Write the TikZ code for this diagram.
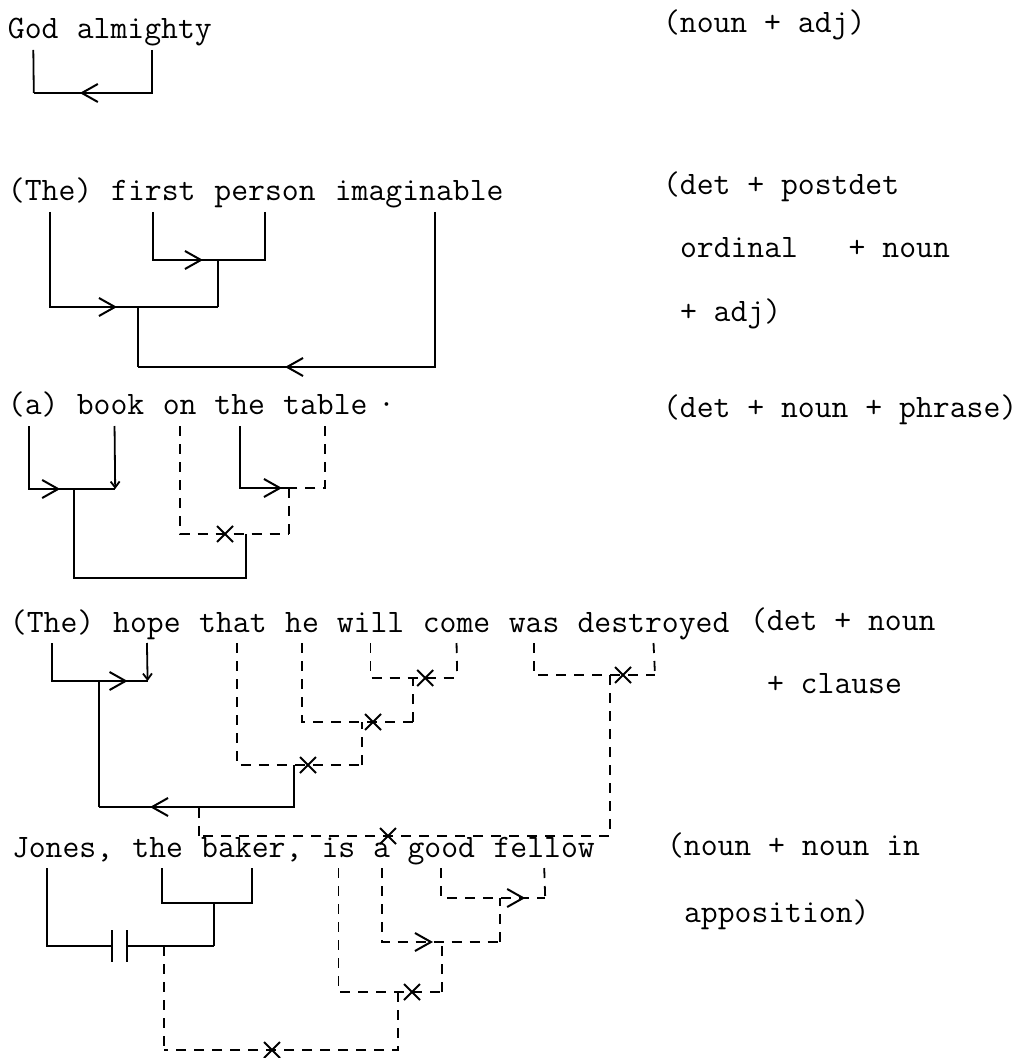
\documentclass[tikz,border=0pt]{standalone}
\usepackage{fontspec}
\usetikzlibrary{arrows.meta,decorations.markings}

\begin{document}
\begin{tikzpicture}[x=0.5pt,y=-0.5pt,
  word/.style={font=\ttfamily\addfontfeatures{FakeBold=0.6}\fontsize{16.38pt}{19pt}\selectfont,inner sep=0pt,outer sep=0pt,anchor=base west,text depth=5.5pt},
  link/.style={line width=0.9pt},
  dlink/.style={link,dash pattern=on 5pt off 4pt},
  tipat/.style={postaction={decorate,decoration={markings,mark=at position #1 with {\arrow[solid]{Straight Barb[length=8pt,width=9pt,line width=1pt]}}}}},
  crossat/.style={postaction={decorate,decoration={markings,mark=at position #1 with {\draw[solid,line width=1pt] (-4pt,-4pt)--(4pt,4pt) (-4pt,4pt)--(4pt,-4pt);}}}},
  smalltip/.style={-{Straight Barb[length=3pt,width=4.5pt]}}]
\useasboundingbox (0,0) rectangle (1029,1058);
\fill[white] (0,0) rectangle (1029,1058);

\node[word] (god) at (8,39) {God};
\node[word] (almighty) at (76.8,39) {almighty};
\node[word] (lab1) at (663,33) {(noun + adj)};
\coordinate (g1) at (33.8,93);
\draw[link] (god.south) -- (g1);
\draw[link,tipat=-23pt] ([xshift=4pt]almighty.south) |- (g1);

\node[word] (the2) at (8,201) {(The)};
\node[word] (first) at (111.2,201) {first};
\node[word] (person) at (214.4,201) {person};
\node[word] (imaginable) at (334.8,201) {imaginable};
\node[word] (lab2) at (663,195) {(det + postdet};
\node[word] (lab3) at (680,258) {ordinal\ \ \ + noun};
\node[word] (lab4) at (680,322) {+ adj)};
\coordinate (p1) at (218,260);
\coordinate (p2) at (218,307);
\coordinate (p3) at (138,307);
\coordinate (p4) at (138,367);
\draw[link,tipat=-7.5pt] (first.south) |- (p1);
\draw[link] (person.south) |- (p1);
\draw[link] (p1) -- (p2);
\draw[link,tipat=-50.5pt] (the2.south) |- (p2);
\draw[link] (p3) -- (p4);
\draw[link,tipat=-73.5pt] ([xshift=8pt]imaginable.south) |- (p4);

\node[word] (a) at (8,415) {(a)};
\node[word] (book) at (76.8,415) {book};
\node[word] (on) at (162.8,415) {on};
\node[word] (the3) at (214.4,415) {the};
\node[word] (table) at (283.2,415) {table};
\node[word] (dot) at (378,415) {·};
\node[word] (lab5) at (663,417) {(det + noun + phrase)};
\coordinate (b1) at (115.2,489);
\coordinate (b2) at (74,489);
\coordinate (b3) at (74,578);
\coordinate (b5) at (246,534);
\coordinate (b6) at (289,534);
\coordinate (b7) at (289,488);
\draw[link,tipat=-27.5pt] ([xshift=-2pt]a.south) |- (b1);
\draw[link,smalltip] ([xshift=2pt]book.south) -- (b1);
\draw[link] (b2) -- (b3) -| (b5);
\draw[dlink,crossat=-32pt] (on.south) |- (b6);
\draw[link,tipat=-3.5pt] (the3.south) |- (b7);
\draw[dlink] (table.south) |- (b7);
\draw[dlink] (b7) -- (b6);

\node[word] (the4) at (10,632) {(The)};
\node[word] (hope) at (113.2,632) {hope};
\node[word] (that) at (199.2,632) {that};
\node[word] (he) at (285.2,632) {he};
\node[word] (will) at (336.8,632) {will};
\node[word] (come) at (422.8,632) {come};
\node[word] (was) at (508.8,632) {was};
\node[word] (destroyed) at (577.6,632) {destroyed};
\node[word] (lab6) at (750,630) {(det + noun};
\node[word] (lab7) at (767,693) {+ clause};
\coordinate (h1) at (147.6,681);
\coordinate (h2) at (99,681);
\coordinate (h3) at (99,807);
\coordinate (h5) at (294,765);
\coordinate (h6) at (362,765);
\coordinate (h7) at (362,722);
\coordinate (h8) at (413,722);
\coordinate (h9) at (413,678);
\coordinate (h10) at (457.2,678);
\coordinate (h11) at (610,675);
\coordinate (h12) at (655,675);
\coordinate (h14) at (199,836);
\coordinate (h15) at (199,807);
\draw[link,tipat=-10pt] (the4.south) |- (h1);
\draw[link,smalltip] (hope.south) -- (h1);
\draw[link] (h2) -- (h3);
\draw[link,tipat=-25.5pt] (h5) |- (h3);
\draw[dlink,crossat=-27pt] ([xshift=2pt]that.south) |- (h6);
\draw[dlink] (h6) -- (h7);
\draw[dlink,crossat=-20pt] (he.south) |- (h8);
\draw[dlink] (h8) -- (h9);
\draw[dlink,crossat=-16pt] (will.south) |- (h10);
\draw[dlink] (come.south) -- (h10);
\draw[dlink,crossat=-16pt] (was.south) |- (h12);
\draw[dlink] (destroyed.south) -- (h12);
\draw[dlink,crossat=-94.5pt] (h11) |- (h14);
\draw[dlink] (h14) -- (h15);

\node[word] (jones) at (12,857) {Jones,};
\node[word] (the5) at (132.4,857) {the};
\node[word] (baker) at (201.2,857) {baker,};
\node[word] (is) at (321.6,857) {is};
\node[word] (a5) at (373.2,857) {a};
\node[word] (good) at (407.6,857) {good};
\node[word] (fellow) at (493.6,857) {fellow};
\node[word] (lab8) at (667,855) {(noun + noun in};
\node[word] (lab9) at (684,922) {apposition)};
\coordinate (k1) at (214,903);
\coordinate (k2) at (214,946);
\coordinate (k3) at (112,946);
\coordinate (k4) at (127,946);
\coordinate (k5) at (164,946);
\coordinate (k6) at (164,1050);
\coordinate (k8) at (398,992);
\coordinate (k9) at (442,992);
\coordinate (k10) at (442,942);
\coordinate (k11) at (500,942);
\coordinate (k12) at (500,898);
\coordinate (k13) at (545.2,898);
\draw[link] ([xshift=2pt]the5.south) |- (k1);
\draw[link] (baker.south) |- (k1);
\draw[link] (k1) -- (k2);
\draw[link] ([xshift=-8pt]jones.south) |- (k3);
\draw[link] ([yshift=8pt]k3) -- ([yshift=-8pt]k3);
\draw[link] ([yshift=8pt]k4) -- ([yshift=-8pt]k4);
\draw[link] (k4) -- (k2);
\draw[dlink] (k5) -- (k6);
\draw[dlink,crossat=-54pt] (k8) |- (k6);
\draw[dlink,crossat=-15pt] (is.south) |- (k9);
\draw[dlink] (k9) -- (k10);
\draw[dlink,tipat=-33.5pt] (a5.south) |- (k11);
\draw[dlink] (k11) -- (k12);
\draw[dlink,tipat=-10pt] (good.south) |- (k13);
\draw[dlink] (fellow.south) -- (k13);
\end{tikzpicture}
\end{document}
